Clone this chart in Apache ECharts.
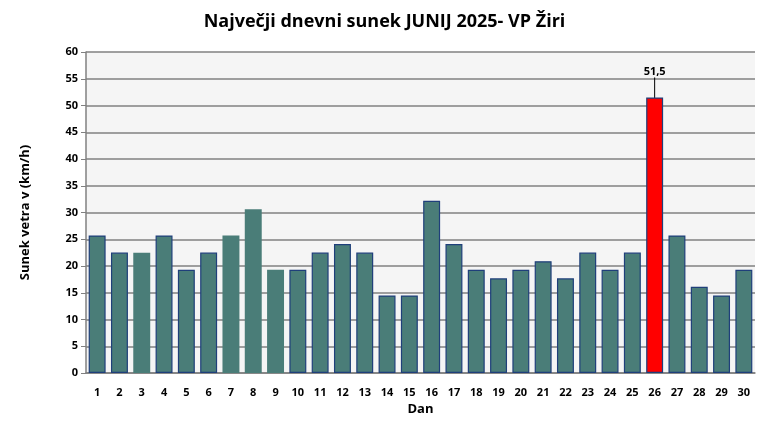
<!DOCTYPE html>
<html><head><meta charset="utf-8">
<script src="https://cdn.jsdelivr.net/npm/echarts@6/dist/echarts.min.js"></script>
<style>html,body{margin:0;padding:0;background:#fff}#c{width:769px;height:439px}</style>
</head><body><div id="c"></div>
<script>
const days = ['1','2','3','4','5','6','7','8','9','10','11','12','13','14','15','16','17','18','19','20','21','22','23','24','25','26','27','28','29','30'];
const gusts = [25.7,22.5,22.5,25.7,19.3,22.5,25.7,30.6,19.3,19.3,22.5,24.1,22.5,14.5,14.5,32.2,24.1,19.3,17.7,19.3,20.9,17.7,22.5,19.3,22.5,51.5,25.7,16.1,14.5,19.3];
const yTicks = [0,5,10,15,20,25,30,35,40,45,50,55,60];
const maxIdx = gusts.indexOf(Math.max(...gusts));
const noBorder = [2,6,7,8];
const font = 'Open Sans';
const data = gusts.map((v,i)=>{
  const o = {value:v, itemStyle:{color:'#4a7d78', borderColor:'#1f3f7a', borderWidth: noBorder.includes(i)?0:1.2}};
  if(i===maxIdx){
    o.itemStyle.color='#ff0000';
    o.label={show:true, position:'top', formatter: p=>String(p.value).replace('.',','), color:'#000', fontFamily:font, fontSize:11, fontWeight:'bold', distance:0};
  }
  return o;
});
const chart = echarts.init(document.getElementById('c'));
chart.setOption({
  animation:false,
  title:{text:'Največji dnevni sunek JUNIJ 2025- VP Žiri', left:'center', top:8, textStyle:{fontFamily:font, fontSize:18, fontWeight:'bold', color:'#000'}},
  grid:{left:86, right:14, top:52, bottom:66, backgroundColor:'#f5f5f5', show:true, borderWidth:0},
  xAxis:{type:'category', data:days, name:'Dan', nameLocation:'middle', nameGap:30,
    nameTextStyle:{fontFamily:font, fontSize:13, fontWeight:'bold', color:'#000'},
    axisLine:{lineStyle:{color:'#808080', width:1.5}}, axisTick:{show:false},
    axisLabel:{fontFamily:font, fontSize:11, fontWeight:'bold', color:'#000', margin:14, interval:0}},
  yAxis:{type:'value', min:0, max:60, interval:5, name:'Sunek vetra v (km/h)', nameLocation:'middle', nameGap:54,
    nameTextStyle:{fontFamily:font, fontSize:13, fontWeight:'bold', color:'#000'},
    axisLine:{show:true, lineStyle:{color:'#808080', width:1.5}},
    axisTick:{show:true, length:5, lineStyle:{color:'#808080'}},
    splitLine:{lineStyle:{color:'#808080', width:1.5}},
    axisLabel:{fontFamily:font, fontSize:11, fontWeight:'bold', color:'#000', margin:8,
      formatter: v=> yTicks.includes(v)? String(v):''}},
  series:[{type:'bar', data:data, barCategoryGap:'24%',
    labelLine:{show:true, lineStyle:{color:'#000', width:1}},
    labelLayout: p => p.dataIndex===maxIdx ? {dy:-20} : {}
  }]
});
</script></body></html>
